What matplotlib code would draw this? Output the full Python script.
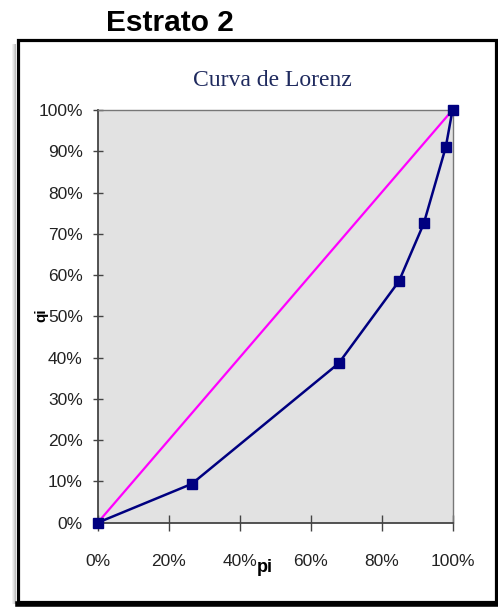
import matplotlib
matplotlib.use("Agg")
import matplotlib.pyplot as plt
from matplotlib.patches import Rectangle
from matplotlib.lines import Line2D
from matplotlib.ticker import FuncFormatter

# Data (fractions)
pi_vals = [0.0, 0.265, 0.679, 0.849, 0.919, 0.981, 1.0]
qi_vals = [0.0, 0.094, 0.386, 0.585, 0.725, 0.910, 1.0]
equality_x = [0.0, 1.0]
equality_y = [0.0, 1.0]
x_ticks = [0.0, 0.2, 0.4, 0.6, 0.8, 1.0]
y_ticks = [0.0, 0.1, 0.2, 0.3, 0.4, 0.5, 0.6, 0.7, 0.8, 0.9, 1.0]

tick_font = ['Liberation Sans', 'DejaVu Sans']

W, H, DPI = 498, 607, 100
fig = plt.figure(figsize=(W / DPI, H / DPI), dpi=DPI)
fig.patch.set_facecolor('white')

def fx(px):
    return px / W

def fy(py):
    return 1 - py / H

# soft shadow on the left of the frame
for i, c in enumerate(['#f0f0f0', '#e2e2e2', '#d0d0d0', '#bcbcbc']):
    fig.patches.append(Rectangle((fx(12 + i), fy(604)), fx(1.2), fy(44) - fy(604),
                                 transform=fig.transFigure, facecolor=c,
                                 edgecolor='none', zorder=0))
# frame
fig.patches.append(Rectangle((fx(18), fy(602)), fx(496) - fx(18), fy(40) - fy(602),
                             transform=fig.transFigure, facecolor='none',
                             edgecolor='black', linewidth=2.3, zorder=5))
fig.lines.append(Line2D([fx(18), fx(498)], [fy(603.5), fy(603.5)],
                        transform=fig.transFigure, color='black', linewidth=4, zorder=5))

ax = fig.add_axes([fx(97.7), fy(522.7), (452.5 - 97.7) / W, (522.7 - 110) / H])
ax.set_facecolor('#e2e2e2')

ax.plot(equality_x, equality_y, color='#ff00ff', linewidth=1.6, zorder=3)
ax.plot(pi_vals, qi_vals, color='#000080', linewidth=1.8, marker='s',
        markersize=6.5, markerfacecolor='#000080', markeredgecolor='#000080',
        zorder=4, clip_on=False)

ax.set_xlim(0, 1)
ax.set_ylim(0, 1)
ax.set_xticks(x_ticks)
ax.set_yticks(y_ticks)
pct = FuncFormatter(lambda v, p: f"{v * 100:.0f}%")
ax.xaxis.set_major_formatter(pct)
ax.yaxis.set_major_formatter(pct)

for s in ax.spines.values():
    s.set_color('#777777')
    s.set_linewidth(1.0)
ax.spines['left'].set_color('#444444')
ax.spines['bottom'].set_color('#444444')
ax.spines['left'].set_linewidth(1.3)
ax.spines['bottom'].set_linewidth(1.3)

ax.tick_params(axis='y', direction='inout', length=6.5, width=1, color='#444444',
               pad=7.5, labelsize=12.5, labelcolor='#222222')
ax.tick_params(axis='x', direction='inout', length=12, width=1, color='#444444',
               pad=16.5, labelsize=12.5, labelcolor='#222222')
for lab in ax.get_xticklabels() + ax.get_yticklabels():
    lab.set_family(tick_font)

fig.text(fx(170), fy(23), 'Estrato 2', ha='center', va='center',
         fontsize=21.5, fontweight='bold', family=['Liberation Sans', 'DejaVu Sans'])
fig.text(fx(272), fy(80), 'Curva de Lorenz', ha='center', va='center',
         fontsize=17, color='#1f2a5e', family=['Liberation Serif', 'DejaVu Serif'])
fig.text(fx(41), fy(315), 'qi', ha='center', va='center', rotation=90,
         fontsize=11, fontweight='bold', family=['Liberation Sans', 'DejaVu Sans'])
fig.text(fx(265), fy(567), 'pi', ha='center', va='center',
         fontsize=13, fontweight='bold', family=['Liberation Sans', 'DejaVu Sans'])

fig.savefig('out.png', dpi=DPI)
